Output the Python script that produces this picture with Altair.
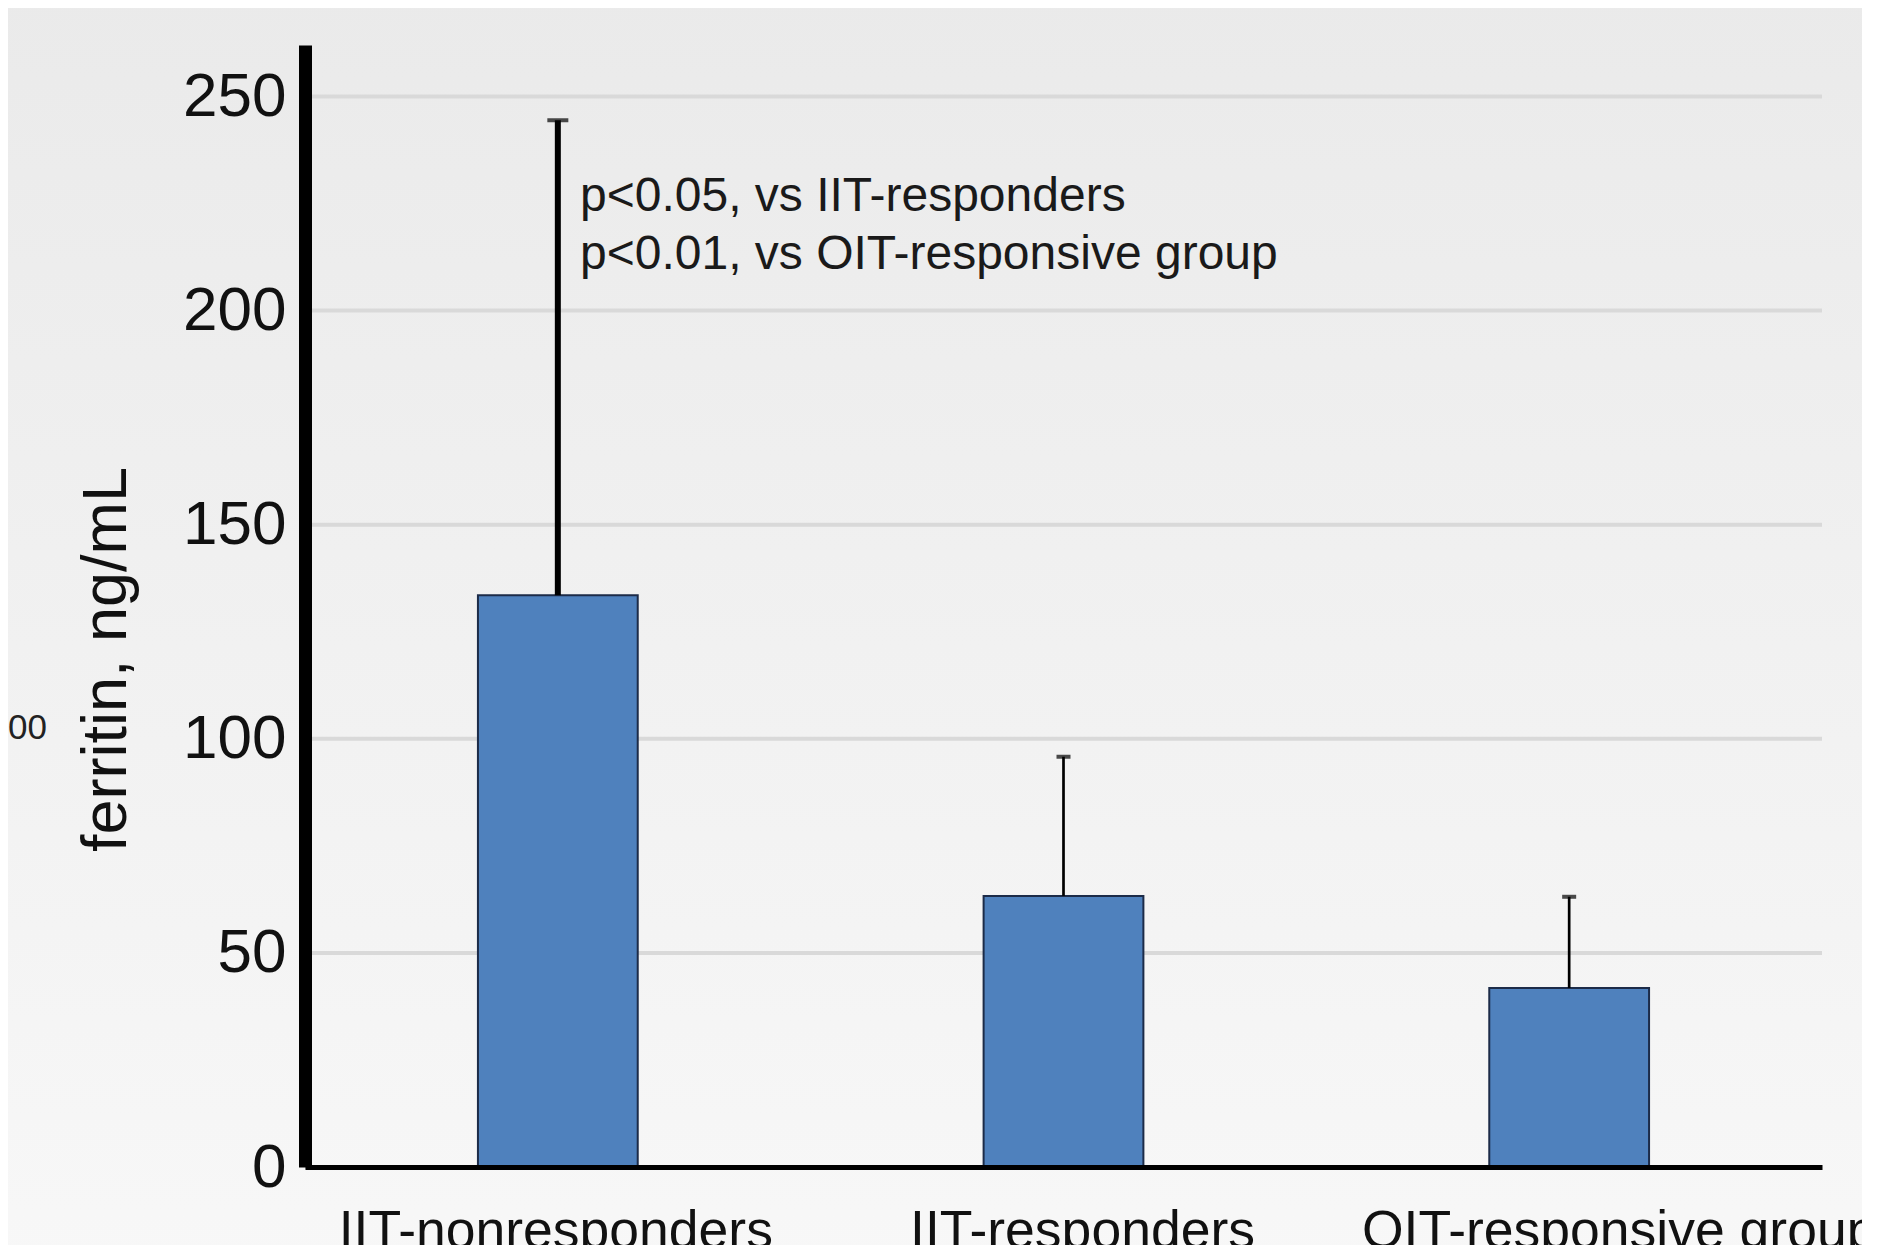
import altair as alt
import pandas as pd

# ---- data ----
groups = ["IIT-nonresponders", "IIT-responders", "OIT-responsive group"]
means = [133.5, 63.3, 41.8]
upper = [244.4, 95.8, 63.1]
y_ticks = [0, 50, 100, 150, 200, 250]
y_title = "ferritin, ng/mL"
note_lines = ["p<0.05, vs IIT-responders", "p<0.01, vs OIT-responsive group"]
fragment = "00"

df = pd.DataFrame({"group": groups, "mean": means, "upper": upper})
grid_df = pd.DataFrame({"v": y_ticks})
one = pd.DataFrame({"k": [0]})
note_df = pd.DataFrame({"t": ["\n".join(note_lines)]})
frag_df = pd.DataFrame({"t": [fragment]})

W, H = 1517, 1122
FONT = "Liberation Sans"
YMAX = 262

xscale = alt.Scale(domain=groups, paddingInner=0.684, paddingOuter=0.342)
yscale = alt.Scale(domain=[0, YMAX], nice=False, zero=True)

label_shift = alt.ExprRef(
    expr=f"datum.value === '{groups[1]}' ? 19 : (datum.value === '{groups[2]}' ? 50 : -2)")

x_axis = alt.Axis(title=None, labelAngle=0, labelFontSize=53.5, labelPadding=38,
                  labelLimit=0, labelOffset=label_shift, ticks=False,
                  domainColor="black", domainWidth=5,
                  labelColor="#111111", labelFont=FONT, grid=False, zindex=1)
y_axis = alt.Axis(values=y_ticks, title=y_title, grid=False, ticks=False,
                  domainColor="black", domainWidth=13, labelPadding=19,
                  labelFontSize=62, labelFont=FONT, labelColor="#111111",
                  titleFont=FONT, titleFontSize=63, titleFontWeight="normal",
                  titleColor="#111111", titleX=-180, titleY=614, titleAngle=270,
                  titleAlign="center", titleBaseline="alphabetic", zindex=1)

bg = alt.Chart(one).mark_rect(
    color=alt.Gradient(gradient="linear",
                       stops=[alt.GradientStop(color="#eaeaea", offset=0),
                              alt.GradientStop(color="#f8f8f8", offset=1)],
                       x1=0, x2=0, y1=0, y2=1)
).encode(x=alt.value(-320), x2=alt.value(W + 80), y=alt.value(-60), y2=alt.value(H + 140))

grid = alt.Chart(grid_df).mark_rule(color="#d9d9d9", strokeWidth=4).encode(
    y=alt.Y("v:Q", scale=yscale, axis=y_axis),
    x=alt.value(0), x2=alt.value(W))

bars = alt.Chart(df).mark_bar(color="#4f81bd", stroke="#1c2b48", strokeWidth=2).encode(
    x=alt.X("group:N", sort=groups, scale=xscale, axis=x_axis),
    y=alt.Y("mean:Q", scale=yscale, axis=y_axis))

first = f"datum.group === '{groups[0]}'"

err = alt.Chart(df).mark_rule(color="black").encode(
    x=alt.X("group:N", sort=groups, scale=xscale, axis=x_axis),
    y=alt.Y("mean:Q", scale=yscale, axis=y_axis),
    y2="upper:Q",
    strokeWidth=alt.condition(first, alt.value(6), alt.value(2.7)))

caps = alt.Chart(df).mark_tick(color="black", thickness=4).encode(
    x=alt.X("group:N", sort=groups, scale=xscale, axis=x_axis),
    y=alt.Y("upper:Q", scale=yscale, axis=y_axis),
    size=alt.condition(first, alt.value(21), alt.value(14)))

note = alt.Chart(note_df).mark_text(
    align="left", baseline="alphabetic", fontSize=48, font=FONT, color="#1a1a1a",
    lineBreak="\n", lineHeight=58
).encode(text="t:N", x=alt.value(275), y=alt.value(166))

frag = alt.Chart(frag_df).mark_text(
    align="left", baseline="middle", fontSize=35, font=FONT, color="#222222"
).encode(text="t:N", x=alt.value(-297), y=alt.value(683))

chart = alt.layer(bg, grid, bars, err, caps, note, frag).properties(
    width=W, height=H,
    autosize=alt.AutoSizeParams(type="none"),
    padding={"left": 297, "top": 37, "right": 40, "bottom": 80},
    background="#f8f8f8",
).configure_view(stroke=None)

chart.save("out.html", embed_options={"renderer": "svg", "actions": False})
